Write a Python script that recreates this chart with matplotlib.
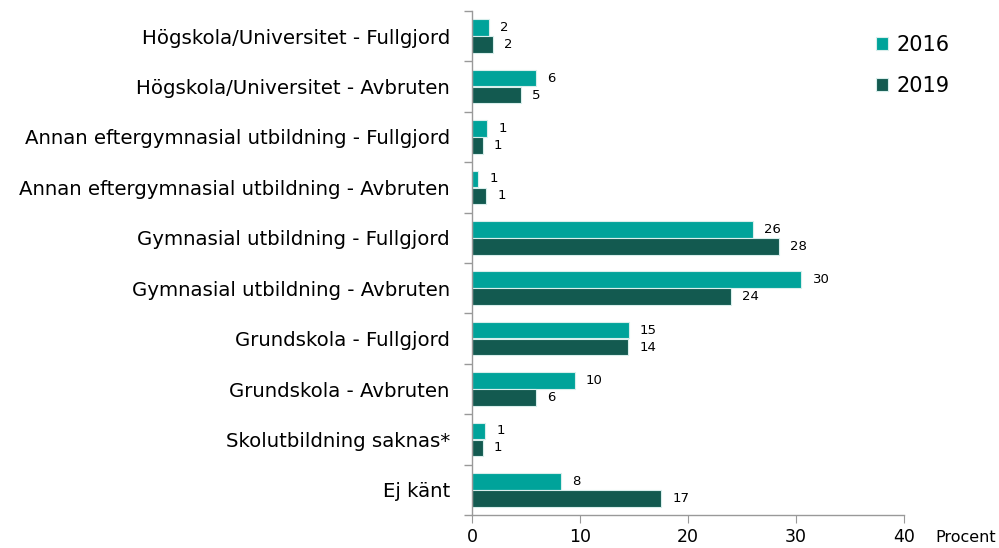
import numpy as np
import matplotlib.pyplot as plt

kategorier = ['Högskola/Universitet - Fullgjord',
              'Högskola/Universitet - Avbruten',
              'Annan eftergymnasial utbildning - Fullgjord',
              'Annan eftergymnasial utbildning - Avbruten',
              'Gymnasial utbildning - Fullgjord',
              'Gymnasial utbildning - Avbruten',
              'Grundskola - Fullgjord',
              'Grundskola - Avbruten',
              'Skolutbildning saknas*',
              'Ej känt']

# bar lengths, printed labels as shown
v2016 = [1.6, 5.95, 1.4, 0.6, 26.0, 30.5, 14.5, 9.5, 1.2, 8.25]
v2019 = [1.9, 4.5, 1.0, 1.3, 28.4, 24.0, 14.45, 5.9, 1.0, 17.5]
etikett2016 = ['2', '6', '1', '1', '26', '30', '15', '10', '1', '8']
etikett2019 = ['2', '5', '1', '1', '28', '24', '14', '6', '1', '17']

c2016 = '#00a39a'
c2019 = '#135a50'

plt.rcParams['font.family'] = ['DejaVu Sans']

fig = plt.figure(figsize=(9.99, 5.48), dpi=100)
ax = fig.add_axes([472 / 999, 1 - 515 / 548, 432 / 999, 504 / 548])

y = np.arange(len(kategorier))
h = 0.33
b1 = ax.barh(y - h / 2 - 0.005, v2016, height=h, color=c2016, edgecolor='#d8eeec', linewidth=0.8, label='2016')
b2 = ax.barh(y + h / 2 + 0.005, v2019, height=h, color=c2019, edgecolor='#d8eeec', linewidth=0.8, label='2019')

for bar, t in zip(b1, etikett2016):
    ax.annotate(t, (bar.get_width(), bar.get_y() + bar.get_height() / 2), xytext=(8, 0),
                textcoords='offset points', va='center', ha='left', fontsize=9.5)
for bar, t in zip(b2, etikett2019):
    ax.annotate(t, (bar.get_width(), bar.get_y() + bar.get_height() / 2), xytext=(8, 0),
                textcoords='offset points', va='center', ha='left', fontsize=9.5)

ax.set_ylim(len(kategorier) - 0.5, -0.5)
ax.set_xlim(0, 40)
ax.set_yticks(y)
ax.set_yticklabels(kategorier, fontsize=14.2)
ax.set_yticks(np.arange(-0.5, len(kategorier)), minor=True)
ax.tick_params(axis='y', which='major', length=0, pad=16)
ax.tick_params(axis='y', which='minor', length=6, color='#999999', width=1)
ax.set_xticks([0, 10, 20, 30, 40])
ax.tick_params(axis='x', labelsize=12.5, length=6, color='#999999', pad=3)

for s in ['top', 'right']:
    ax.spines[s].set_visible(False)
for s in ['left', 'bottom']:
    ax.spines[s].set_color('#999999')
    ax.spines[s].set_linewidth(1)

ax.annotate('Procent', xy=(1, 0), xycoords='axes fraction', xytext=(31, -23),
            textcoords='offset pixels', fontsize=11.5, ha='left', va='center')

ax.legend(loc='upper left', bbox_to_anchor=(0.891, 0.99), frameon=False, fontsize=15,
          handlelength=0.6, handleheight=0.6, handletextpad=0.4, labelspacing=1.0)

fig.savefig('out.png', dpi=100)
